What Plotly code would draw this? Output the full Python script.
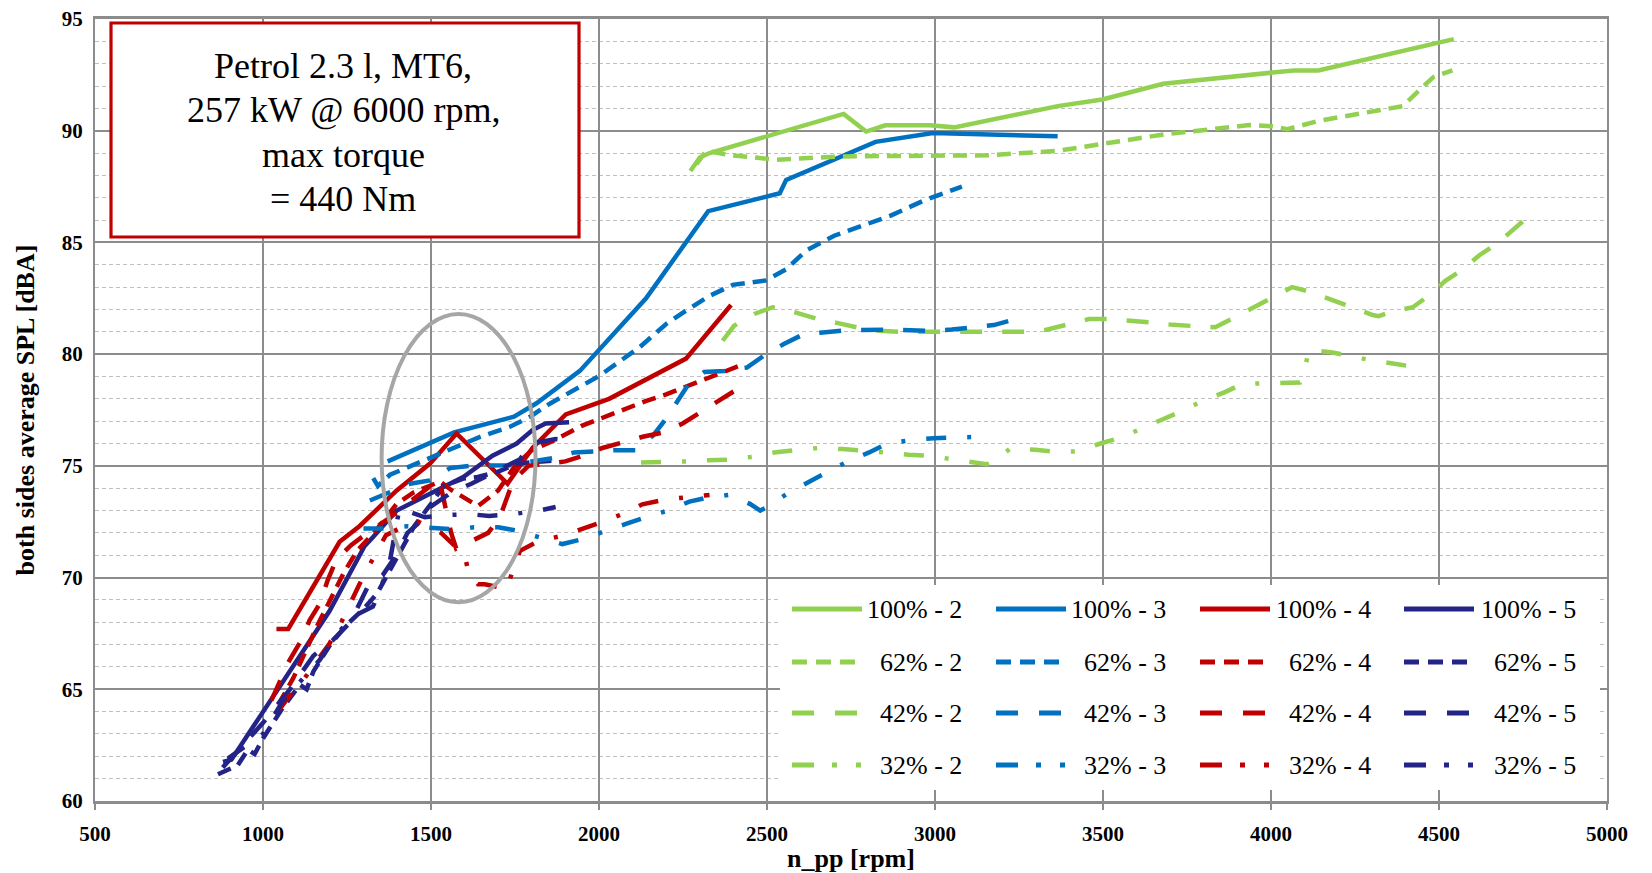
import plotly.graph_objects as go

# ---------------- data ----------------
x_100_2 = [2272, 2300, 2329, 2728, 2795, 2852, 2985, 3057, 3365, 3498, 3679, 4068, 4141, 4544]
y_100_2 = [88.2, 88.8, 89.0, 90.75, 89.96, 90.24, 90.24, 90.15, 91.1, 91.4, 92.1, 92.7, 92.7, 94.1]
x_62_2 = [2290, 2319, 2395, 2529, 2719, 3004, 3156, 3365, 3498, 3688, 3935, 4002, 4049, 4144, 4392, 4483, 4540]
y_62_2 = [88.5, 89.1, 88.9, 88.7, 88.85, 88.9, 88.9, 89.1, 89.4, 89.85, 90.25, 90.2, 90.07, 90.45, 91.1, 92.4, 92.7]
x_42_2 = [2368, 2402, 2462, 2517, 2584, 2644, 2708, 2767, 2832, 2891, 3016, 3145, 3274, 3332, 3389, 3458, 3515,
          3583, 3640, 3709, 3766, 3834, 3886, 3949, 4000, 4063, 4114, 4183, 4234, 4303, 4320, 4354, 4422, 4468,
          4519, 4571, 4622, 4673, 4749]
y_42_2 = [80.6, 81.27, 81.8, 82.1, 81.87, 81.6, 81.4, 81.2, 81.05, 81.0, 81.0, 81.0, 81.0, 81.09, 81.31, 81.57, 81.57,
          81.5, 81.42, 81.31, 81.27, 81.2, 81.6, 82.09, 82.46, 83.0, 82.8, 82.4, 82.1, 81.75, 81.7, 81.87, 82.1, 82.6,
          83.28, 83.8, 84.45, 84.95, 85.94]
x_32_2 = [2125, 2185, 2254, 2323, 2383, 2452, 2521, 2581, 2654, 2724, 2783, 2852, 2922, 2981, 3050, 3119, 3154, 3175,
          3226, 3298, 3355, 3424, 3492, 3549, 3612, 3680, 3732, 3795, 3863, 3914, 3983, 4057, 4086, 4097, 4114,
          4183, 4240, 4308, 4377, 4405]
y_32_2 = [75.15, 75.15, 75.2, 75.25, 75.27, 75.4, 75.6, 75.7, 75.8, 75.75, 75.7, 75.6, 75.5, 75.45, 75.3, 75.15, 75.07,
          75.2, 75.8, 75.72, 75.63, 75.64, 76.0, 76.24, 76.67, 77.1, 77.43, 77.9, 78.3, 78.66, 78.7, 78.7, 78.73,
          79.18, 80.2, 80.07, 79.88, 79.7, 79.55, 79.48]

x_100_3 = [1371, 1569, 1747, 1814, 1943, 2140, 2325, 2538, 2557, 2823, 2994, 3365]
y_100_3 = [75.2, 76.5, 77.2, 77.8, 79.25, 82.5, 86.4, 87.2, 87.8, 89.5, 89.9, 89.75]
x_62_3 = [1328, 1342, 1378, 1527, 1646, 1735, 1795, 1851, 2001, 2120, 2199, 2259, 2328, 2398, 2497, 2557, 2616,
          2700, 2868, 2966, 3080]
y_62_3 = [74.45, 74.1, 74.6, 75.55, 76.3, 76.75, 77.2, 77.76, 79.03, 80.3, 81.34, 81.94, 82.6, 83.1, 83.3, 83.8,
          84.63, 85.3, 86.2, 86.87, 87.5]
x_42_3 = [1318, 1438, 1497, 1557, 1616, 1735, 1871, 1926, 2050, 2109, 2160, 2194, 2234, 2264, 2313, 2373, 2440,
          2497, 2550, 2610, 2666, 2733, 2858, 2986, 3050, 3110, 3175, 3224]
y_42_3 = [73.45, 74.2, 74.35, 74.9, 75.0, 75.03, 75.37, 75.6, 75.7, 75.7, 76.34, 77.0, 77.9, 78.6, 79.2, 79.25,
          79.4, 80.0, 80.45, 80.9, 80.97, 81.07, 81.1, 81.04, 81.1, 81.2, 81.3, 81.5]
x_32_3 = [1299, 1358, 1430, 1497, 1576, 1628, 1700, 1756, 1822, 1891, 1946, 2012, 2080, 2140, 2205, 2269, 2329,
          2388, 2449, 2480, 2505, 2564, 2626, 2680, 2740, 2804, 2858, 2927, 2996, 3060, 3128]
y_32_3 = [72.2, 72.2, 72.3, 72.25, 72.15, 72.25, 72.25, 72.1, 71.8, 71.5, 71.7, 72.06, 72.4, 72.7, 73.0, 73.4,
          73.6, 73.7, 73.3, 73.0, 73.2, 73.8, 74.3, 74.7, 75.2, 75.6, 76.0, 76.15, 76.24, 76.27, 76.3]

x_100_4 = [1040, 1075, 1228, 1287, 1398, 1497, 1576, 1656, 1728, 1802, 1901, 2030, 2259, 2393]
y_100_4 = [67.7, 67.7, 71.6, 72.3, 73.9, 75.1, 76.45, 75.3, 74.2, 75.8, 77.3, 78.0, 79.8, 82.2]
x_62_4 = [1045, 1090, 1130, 1160, 1200, 1240, 1280, 1330, 1398, 1447, 1527, 1562, 1596, 1640, 1700, 1750, 1800,
          1861, 1950, 2001, 2084, 2139, 2200, 2329, 2430]
y_62_4 = [64.3, 65.5, 66.8, 67.8, 69.0, 70.2, 71.2, 72.0, 73.3, 73.8, 74.3, 73.9, 73.6, 73.2, 73.9, 75.0, 75.7,
          76.1, 76.8, 77.1, 77.6, 77.9, 78.2, 78.95, 79.55]
x_42_4 = [1025, 1050, 1075, 1114, 1139, 1168, 1193, 1218, 1262, 1302, 1370, 1420, 1480, 1525, 1545, 1560, 1575,
          1640, 1670, 1705, 1745, 1790, 1850, 1900, 1951, 2010, 2069, 2130, 2194, 2249, 2302, 2357, 2408]
y_42_4 = [64.5, 65.4, 66.2, 67.2, 68.1, 68.8, 69.9, 70.8, 71.45, 71.9, 72.6, 73.2, 73.9, 74.4, 73.0, 72.0, 71.3,
          71.8, 72.0, 72.7, 74.35, 75.0, 75.1, 75.2, 75.45, 75.8, 76.04, 76.3, 76.5, 76.9, 77.4, 77.9, 78.4]
x_32_4 = [1049, 1074, 1124, 1173, 1198, 1233, 1257, 1287, 1322, 1366, 1420, 1462, 1530, 1575, 1600, 1614, 1640,
          1660, 1725, 1750, 1765, 1821, 1891, 1946, 2012, 2079, 2129, 2200, 2269, 2329]
y_32_4 = [64.1, 64.6, 65.5, 66.5, 67.05, 68.0, 68.8, 69.7, 70.7, 71.9, 72.3, 72.5, 72.0, 71.4, 71.0, 70.1, 69.7,
          69.7, 69.5, 70.6, 71.2, 71.64, 71.87, 72.16, 72.5, 72.9, 73.28, 73.5, 73.6, 73.7]

x_100_5 = [881, 906, 1198, 1302, 1327, 1398, 1497, 1596, 1683, 1755, 1802, 1841, 1911]
y_100_5 = [61.75, 61.85, 68.5, 71.4, 71.8, 73.0, 73.75, 74.5, 75.45, 76.0, 76.6, 76.9, 76.95]
x_62_5 = [866, 925, 955, 975, 1000, 1060, 1110, 1130, 1150, 1200, 1250, 1300, 1340, 1380, 1420, 1450, 1500, 1537,
          1596, 1639, 1698, 1758, 1830, 1880]
y_62_5 = [61.2, 61.6, 62.3, 62.1, 62.8, 64.2, 65.2, 65.0, 65.8, 67.0, 67.9, 68.6, 69.3, 70.4, 71.5, 72.3, 73.3,
          74.1, 74.43, 74.5, 74.73, 75.1, 75.2, 75.25]
x_42_5 = [880, 940, 1000, 1080, 1150, 1208, 1260, 1312, 1356, 1396, 1430, 1460, 1497, 1560, 1620, 1700, 1765,
          1800, 1871, 1935]
y_42_5 = [61.5, 62.5, 63.5, 65.0, 66.5, 67.2, 68.0, 69.6, 70.1, 71.0, 72.0, 72.4, 73.15, 73.8, 74.2, 74.8, 75.3,
          76.0, 76.2, 76.1]
x_32_5 = [895, 950, 1000, 1060, 1110, 1168, 1208, 1260, 1327, 1342, 1376, 1406, 1482, 1550, 1613, 1673, 1742,
          1816, 1871]
y_32_5 = [61.9, 62.5, 63.0, 64.5, 65.3, 66.3, 67.2, 68.2, 68.7, 69.2, 70.6, 73.1, 72.7, 72.8, 72.84, 72.76, 72.84,
          72.98, 73.16]

loads = ["100%", "62%", "42%", "32%"]
gears = ["2", "3", "4", "5"]
info_lines = ["Petrol 2.3 l, MT6,", "257 kW @ 6000 rpm,", "max torque", "= 440 Nm"]

series = {
    ("100%", "2"): (x_100_2, y_100_2), ("100%", "3"): (x_100_3, y_100_3),
    ("100%", "4"): (x_100_4, y_100_4), ("100%", "5"): (x_100_5, y_100_5),
    ("62%", "2"): (x_62_2, y_62_2), ("62%", "3"): (x_62_3, y_62_3),
    ("62%", "4"): (x_62_4, y_62_4), ("62%", "5"): (x_62_5, y_62_5),
    ("42%", "2"): (x_42_2, y_42_2), ("42%", "3"): (x_42_3, y_42_3),
    ("42%", "4"): (x_42_4, y_42_4), ("42%", "5"): (x_42_5, y_42_5),
    ("32%", "2"): (x_32_2, y_32_2), ("32%", "3"): (x_32_3, y_32_3),
    ("32%", "4"): (x_32_4, y_32_4), ("32%", "5"): (x_32_5, y_32_5),
}

gear_colors = {"2": "#92D050", "3": "#0070C0", "4": "#C00000", "5": "#232388"}
load_dash = {"100%": "solid", "62%": "14px,8px", "42%": "22px,20px", "32%": "20px,21px,4px,21px"}
legend_dash = {"100%": "solid", "62%": "15px,9px", "42%": "22px,21px", "32%": "22px,18px,5px,19px,5px,30px"}

SERIF = "Liberation Serif, Times New Roman, serif"

# plot-area geometry in pixels (used only for placing overlay boxes/legend)
W, H = 1652, 873
ML, MR, MT, MB = 95, 45, 19, 72
PW, PH = W - ML - MR, H - MT - MB


def px(xp):
    return (xp - ML) / PW


def py(yp):
    return (H - MB - yp) / PH


fig = go.Figure()
for ld in loads:
    for g in gears:
        xs, ys = series[(ld, g)]
        fig.add_trace(go.Scatter(
            x=xs, y=ys, mode="lines", name=f"{ld} - {g}", showlegend=False,
            line=dict(color=gear_colors[g], width=4.5, dash=load_dash[ld]),
        ))

# legend (drawn manually so the swatches are as long as in the reference)
fig.add_shape(type="rect", xref="paper", yref="paper", x0=px(780), x1=px(1600), y0=py(790), y1=py(585),
              fillcolor="white", line=dict(width=0), layer="above")
col_swatch = [792, 996, 1200, 1404]
col_text_end = [964, 1168, 1373, 1578]
row_y = [609, 662, 713, 765]
for r, ld in enumerate(loads):
    for c, g in enumerate(gears):
        fig.add_shape(type="line", xref="paper", yref="paper",
                      x0=px(col_swatch[c]), x1=px(col_swatch[c] + 70), y0=py(row_y[r]), y1=py(row_y[r]),
                      line=dict(color=gear_colors[g], width=5, dash=legend_dash[ld]), layer="above")
        fig.add_annotation(xref="paper", yref="paper", x=px(col_text_end[c]), y=py(row_y[r]),
                           xanchor="right", yanchor="middle", showarrow=False,
                           text=f"{ld} - {g}", font=dict(family=SERIF, size=26, color="black"))

# ellipse highlight
fig.add_shape(type="circle", xref="x", yref="y", x0=1353, x1=1811, y0=68.9, y1=81.8,
              line=dict(color="#A6A6A6", width=4), layer="above")

# info box
fig.add_shape(type="rect", xref="paper", yref="paper", x0=px(111), x1=px(579), y0=py(237), y1=py(23),
              fillcolor="white", line=dict(color="#C00000", width=3.2), layer="above")
for i, t in enumerate(info_lines):
    fig.add_annotation(xref="paper", yref="paper", x=px(343), y=py(65.5 + 44.6 * i),
                       xanchor="center", yanchor="middle", showarrow=False, text=t,
                       font=dict(family=SERIF, size=36, color="black"))

fig.update_layout(
    width=W, height=H,
    margin=dict(l=ML, r=MR, t=MT, b=MB),
    paper_bgcolor="white", plot_bgcolor="white",
    showlegend=False,
    xaxis=dict(range=[500, 5000], dtick=500, tick0=500, automargin=False,
               showgrid=True, gridcolor="#8C8C8C", gridwidth=1.5,
               showline=True, linecolor="#8C8C8C", linewidth=2.5, mirror=True,
               ticks="outside", ticklen=6, tickcolor="#8C8C8C", tickwidth=1.5,
               ticklabelstandoff=6,
               zeroline=False,
               tickfont=dict(family=SERIF, size=21, color="black", weight="bold"),
               title=dict(text="n_pp [rpm]", standoff=2,
                          font=dict(family=SERIF, size=26, color="black", weight="bold"))),
    yaxis=dict(range=[60, 95], dtick=5, tick0=60, automargin=False,
               showgrid=True, gridcolor="#8C8C8C", gridwidth=1.5,
               showline=True, linecolor="#8C8C8C", linewidth=2, mirror=True,
               zeroline=False, ticks="", ticklabelstandoff=6,
               minor=dict(dtick=1, showgrid=True, gridcolor="#C0C0C0", gridwidth=1.3, griddash="4px,3px"),
               tickfont=dict(family=SERIF, size=21, color="black", weight="bold"),
               title=dict(text="both sides average SPL [dBA]", standoff=20,
                          font=dict(family=SERIF, size=26, color="black", weight="bold"))),
)

fig.write_html("out.html", config={"displayModeBar": False},
               post_script="document.body.style.margin='0px';")
